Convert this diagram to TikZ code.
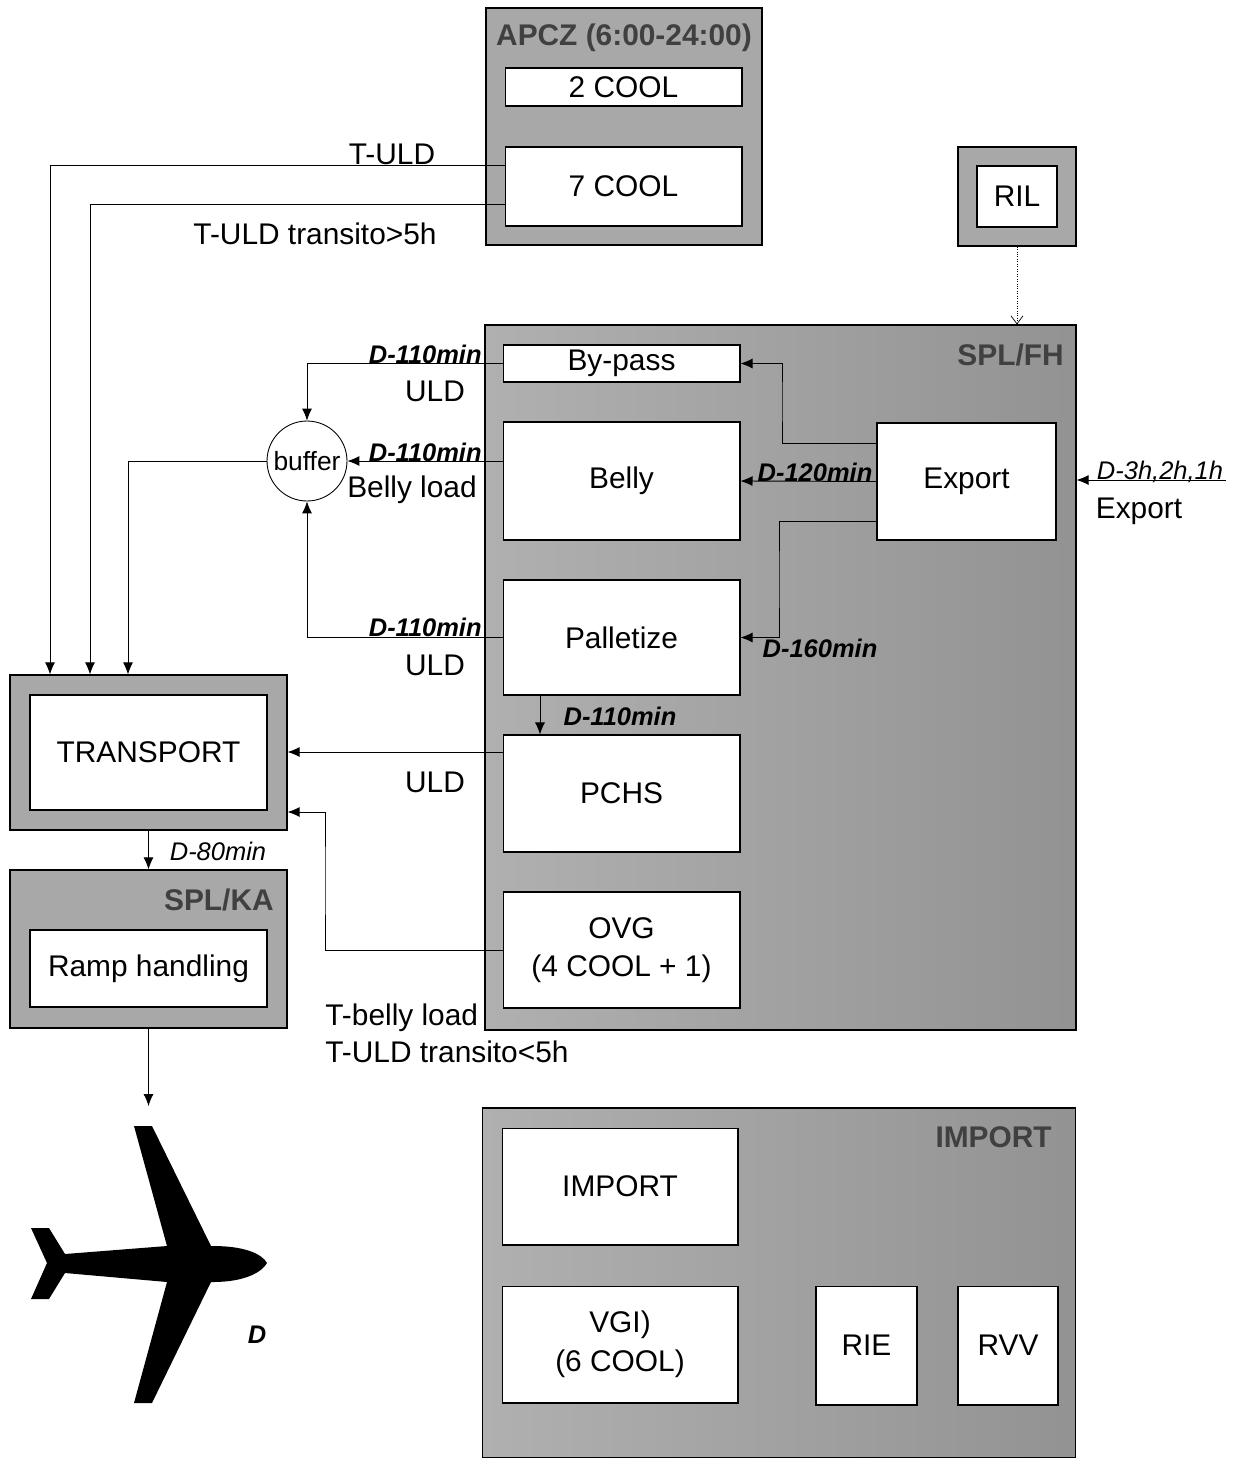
\documentclass[tikz,border=0pt]{standalone}
\usepackage{fontspec}
\setmainfont{Liberation Sans}
\usetikzlibrary{arrows.meta}
\begin{document}
\begin{tikzpicture}[x=0.02cm,y=-0.02cm,
    every node/.style={inner sep=0pt},
    area/.style={draw, fill=gray!68, line width=0.7pt},
    darkarea/.style={draw, left color=gray!62, right color=gray!85, line width=0.7pt},
    box/.style={draw, fill=white, line width=0.6pt, align=center,
      font=\fontsize{17}{22}\selectfont},
    title/.style={font=\fontsize{17}{20}\selectfont\bfseries, text=black!75},
    lbl/.style={font=\fontsize{17}{20}\selectfont},
    tlbl/.style={font=\fontsize{14.5}{16}\selectfont\bfseries\itshape},
    ilbl/.style={font=\fontsize{14.5}{16}\selectfont\itshape},
    flow/.style={-{Latex[length=0.24cm,width=0.2cm]}, line width=0.5pt}]
  \useasboundingbox (0,0) rectangle (1239,1458);

  % APCZ
  \node[area, minimum width=5.52cm, minimum height=4.74cm] (apcz) at (624,126.5) {};
  \node[title] at (624,38) {APCZ (6:00-24:00)};
  \node[box, minimum width=4.74cm, minimum height=0.76cm] (cool2) at (623.5,87) {2 COOL};
  \node[box, minimum width=4.74cm, minimum height=1.58cm] (cool7) at (623.5,186.5) {7 COOL};

  % RIL
  \node[area, minimum width=2.36cm, minimum height=1.98cm] (rilarea) at (1017,196.5) {};
  \node[box, minimum width=1.6cm, minimum height=1.22cm] (ril) at (1017,196.5) {RIL};

  % SPL/FH
  \node[darkarea, minimum width=11.82cm, minimum height=14.1cm] (splfh) at (780.5,677.5) {};
  \node[title, anchor=east] at (1064,355) {SPL/FH};
  \node[box, minimum width=4.74cm, minimum height=0.74cm] (bypass) at (621.5,363.5) {By-pass};
  \node[box, minimum width=4.74cm, minimum height=2.36cm] (belly) at (621.5,481) {Belly};
  \node[box, minimum width=3.58cm, minimum height=2.34cm] (export) at (966.5,481.5) {Export};
  \node[box, minimum width=4.74cm, minimum height=2.3cm] (pallet) at (621.5,637.5) {Palletize};
  \node[box, minimum width=4.74cm, minimum height=2.34cm] (pchs) at (621.5,793.5) {PCHS};
  \node[box, minimum width=4.74cm, minimum height=2.32cm] (ovg) at (621.5,950) {OVG\\(4 COOL + 1)};

  % TRANSPORT
  \node[area, minimum width=5.54cm, minimum height=3.1cm] (transarea) at (148.5,752.5) {};
  \node[box, minimum width=4.74cm, minimum height=2.3cm] (transport) at (148.5,752.5) {TRANSPORT};

  % SPL/KA
  \node[area, minimum width=5.54cm, minimum height=3.16cm] (splka) at (148.5,949) {};
  \node[title, anchor=east] at (274,900) {SPL/KA};
  \node[box, minimum width=4.74cm, minimum height=1.54cm] (ramp) at (148.5,968.5) {Ramp handling};

  % IMPORT
  \node[darkarea, minimum width=11.86cm, minimum height=7.0cm] (imparea) at (779,1283) {};
  \node[title, anchor=east] at (1052,1137) {IMPORT};
  \node[box, minimum width=4.72cm, minimum height=2.34cm] (import) at (620,1186.5) {IMPORT};
  \node[box, minimum width=4.72cm, minimum height=2.34cm] (vgi) at (620,1344.5) {VGI)\\(6 COOL)};
  \node[box, minimum width=2.02cm, minimum height=2.38cm] (rie) at (866.5,1345.5) {RIE};
  \node[box, minimum width=2.0cm, minimum height=2.38cm] (rvv) at (1008,1345.5) {RVV};

  % buffer
  \node[draw, circle, fill=white, minimum size=1.6cm, line width=0.5pt,
    font=\fontsize{15}{18}\selectfont] (buffer) at (307,461) {buffer};

  % flows APCZ -> TRANSPORT
  \draw[flow] (cool7.west |- 0,165) -| (transarea.north -| 50,0);
  \draw[flow] (cool7.west |- 0,204) -| (transarea.north -| 90,0);
  \node[lbl] at (392,154) {T-ULD};
  \node[lbl] at (315,234) {T-ULD transito>5h};

  % RIL -> SPL/FH
  \draw[densely dotted, -{Straight Barb[length=0.16cm,width=0.24cm]}, line width=0.4pt]
    (rilarea.south) -- (rilarea.south |- splfh.north);

  % to buffer
  \draw[flow] (bypass.west) -| (buffer.north);
  \draw[flow] (belly.west |- buffer.east) -- (buffer.east);
  \draw[flow] (pallet.west) -| (buffer.south);
  \draw[flow] (buffer.west) -| (transarea.north -| 128,0);
  \node[tlbl, anchor=east] at (482,354) {D-110min};
  \node[tlbl, anchor=east] at (482,452) {D-110min};
  \node[tlbl, anchor=east] at (482,627) {D-110min};
  \node[lbl] at (435,391) {ULD};
  \node[lbl] at (412,490) {Belly load};
  \node[lbl] at (435,665) {ULD};

  % Export -> SPL/FH boxes
  \draw[flow] (export.west |- 0,443) -| (782,400) |- (bypass.east);
  \draw[flow] (export.west) -- (belly.east);
  \draw[flow] (export.west |- 0,521) -| (779,580) |- (pallet.east);
  \node[tlbl] at (815,472) {D-120min};
  \node[tlbl] at (820,648) {D-160min};
  \coordinate (expin) at (1226,480);
  \draw[flow] (expin) -- (splfh.east |- expin);
  \node[ilbl] at (1160,472) {D-3h,2h,1h};
  \node[lbl] at (1139,511) {Export};

  % SPL/FH -> TRANSPORT
  \draw[flow] (pallet.south -| 540,0) -- (pchs.north -| 540,0);
  \node[tlbl] at (620,716) {D-110min};
  \draw[flow] (pchs.west |- 0,752) -- (transarea.east |- 0,752);
  \node[lbl] at (435,782) {ULD};
  \draw[flow] (ovg.west) -| (325,880) |- (transarea.east |- 0,812);
  \node[lbl, anchor=west] at (325,1018) {T-belly load};
  \node[lbl, anchor=west] at (325,1052) {T-ULD transito<5h};

  % TRANSPORT -> ramp -> aircraft
  \draw[flow] (transarea.south) -- (splka.north);
  \node[ilbl] at (218,851) {D-80min};
  \coordinate (plane) at (148.5,1106);
  \draw[flow] (splka.south) -- (plane);

  % aircraft
  \fill (267,1263) .. controls (262,1272) and (245,1282) .. (213,1282)
    -- (211,1282) -- (152,1403) -- (134,1403) -- (167,1282)
    -- (65,1273) -- (49,1299) -- (31,1299) -- (47,1263)
    -- (31,1228) -- (49,1228) -- (65,1254)
    -- (167,1246) -- (134,1126) -- (152,1126) -- (211,1246) -- (213,1246)
    .. controls (245,1246) and (262,1254) .. (267,1263) -- cycle;
  \node[tlbl] at (257,1335) {D};
\end{tikzpicture}
\end{document}
